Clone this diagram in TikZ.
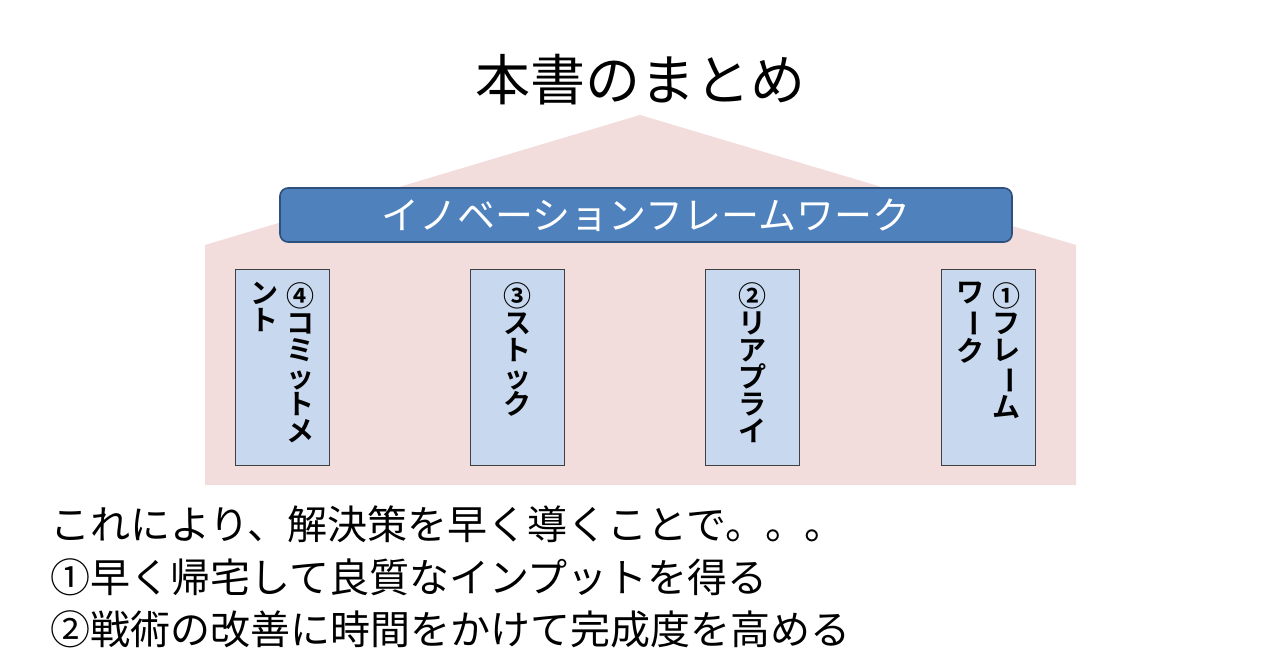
\documentclass[tikz,border=0pt]{standalone}
\usepackage{fontspec}
\setmainfont{Noto Sans CJK JP}[BoldFont={Noto Sans CJK JP Bold}]
\usetikzlibrary{positioning}
\definecolor{roofpink}{RGB}{242,220,220}
\definecolor{barblue}{RGB}{79,129,189}
\definecolor{barline}{RGB}{46,80,124}
\definecolor{pillarblue}{RGB}{200,216,238}
\newcommand{\vbar}{\rotatebox[origin=c]{-90}{ー}}
\tikzset{
  pillar/.style={draw=black!75, thick, fill=pillarblue, minimum width=94pt, minimum height=196pt},
  vcol/.style={anchor=north, align=center, inner sep=0pt, font=\fontsize{28}{27}\selectfont\bfseries},
  mainline/.style={anchor=west, inner sep=0pt, font=\fontsize{40}{44}\selectfont},
}
\begin{document}
\begin{tikzpicture}[x=1pt,y=-1pt]
  \useasboundingbox (0,0) rectangle (1280,670);
  % house
  \fill[roofpink] (205,485) -- (205,245) -- (640,115) -- (1076,245) -- (1076,485) -- cycle;
  \node[font=\fontsize{55}{60}\selectfont] (title) at (640,80) {本書のまとめ};
  \node[draw=barline, line width=1.6pt, fill=barblue, rounded corners=8pt, minimum width=732pt, minimum height=54pt,
        text=white, font=\fontsize{38}{40}\selectfont] (bar) at (646,215) {イノベーションフレームワーク};
  % pillars
  \node[pillar] (p4) at (282,367) {};
  \node[pillar] (p3) at (517,367) {};
  \node[pillar] (p2) at (752,367) {};
  \node[pillar] (p1) at (988,367) {};
  \node[vcol] (p4a) at (300,282) {④\\コ\\ミ\\ッ\\ト\\メ};
  \node[vcol] (p4b) at (264,282) {ン\\ト};
  \node[vcol] (p3a) at (517,282) {③\\ス\\ト\\ッ\\ク};
  \node[vcol] (p2a) at (752,282) {②\\リ\\ア\\プ\\ラ\\イ};
  \node[vcol] (p1a) at (1006,282) {①\\フ\\レ\\\vbar\\ム};
  \node[vcol] (p1b) at (970,282) {ワ\\\vbar\\ク};
  % summary
  \node[mainline] (l1) at (50,524) {これにより、解決策を早く導くことで。。。};
  \node[mainline] (l2) at (50,577) {①早く帰宅して良質なインプットを得る};
  \node[mainline] (l3) at (50,629) {②戦術の改善に時間をかけて完成度を高める};
\end{tikzpicture}
\end{document}
